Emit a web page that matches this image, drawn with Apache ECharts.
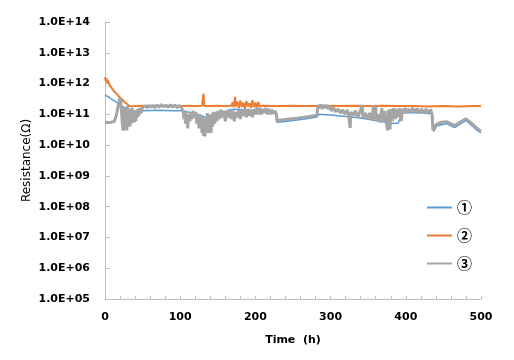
<!DOCTYPE html>
<html>
<head>
<meta charset="utf-8">
<script src="https://cdn.jsdelivr.net/npm/echarts@6/dist/echarts.min.js"></script>
<style>
html,body{margin:0;padding:0;background:#fff;}
#chart{width:514px;height:360px;}
</style>
</head>
<body>
<div id="chart"></div>
<script>
// Series names (legend)
var seriesNames = ['①', '②', '③'];

// Series ① (blue): [time h, resistance Ω]
var series1 = [
  [0,4.3e11],[2,4.0e11],[5,3.6e11],[8,3.2e11],[12,2.8e11],[16,2.4e11],[20,2.0e11],[25,1.7e11],[30,1.45e11],
  [35,1.3e11],[40,1.25e11],[50,1.3e11],[70,1.35e11],[90,1.3e11],[104,1.3e11],[110,1.2e11],[120,1.05e11],
  [128,9.0e10],[135,7.5e10],[140,6.2e10],[145,6.0e10],[150,7.5e10],[155,9.0e10],[160,1.15e11],[165,1.4e11],
  [175,1.45e11],[200,1.3e11],[215,1.2e11],[227,1.1e11],[228.5,5.5e10],[240,5.9e10],[255,6.5e10],[270,7.3e10],
  [282,8.2e10],[284,1.0e11],[300,9.5e10],[320,8.5e10],[340,7.6e10],[360,6.3e10],[375,5.4e10],[385,5.0e10],
  [390,5.2e10],[395,1.1e11],[415,1.15e11],[435,1.05e11],[437,2.8e10],[441,4.2e10],[454,5.0e10],[465,3.7e10],
  [472,4.8e10],[480,6.3e10],[484,5.2e10],[490,3.9e10],[495,3.0e10],[500,2.5e10]
];

// Series ② (orange)
var series2 = [
  [0,1.6e12],[1,1.2e12],[2,1.5e12],[3,1.05e12],[4,1.25e12],[6,8.9e11],[8,8.0e11],[10,6.6e11],[12,5.6e11],
  [14,5.0e11],[17,4.2e11],[20,3.5e11],[23,3.0e11],[26,2.5e11],[29,2.2e11],[32,1.9e11],[35,1.8e11],[40,1.85e11],
  [50,1.9e11],[60,1.85e11],[70,1.9e11],[80,1.85e11],[90,1.9e11],[100,1.85e11],[110,1.9e11],[120,1.85e11],
  [129,1.9e11],[130,1.85e11],[131,4.7e11],[132,1.85e11],[140,1.85e11],[150,1.9e11],[160,1.85e11],[168,1.9e11],
  [170,2.5e11],[171,1.7e11],[173,3.7e11],[174,1.8e11],[176,2.6e11],[178,1.6e11],[180,2.8e11],[182,1.7e11],
  [184,2.4e11],[186,1.5e11],[188,2.7e11],[190,1.8e11],[192,2.3e11],[194,1.6e11],[196,2.9e11],[198,1.7e11],
  [200,2.4e11],[202,1.6e11],[204,2.5e11],[206,1.8e11],[210,1.9e11],[230,1.85e11],[250,1.9e11],[270,1.85e11],
  [290,1.9e11],[310,1.85e11],[330,1.9e11],[350,1.85e11],[370,1.9e11],[390,1.85e11],[410,1.85e11],[430,1.8e11],
  [450,1.85e11],[470,1.8e11],[490,1.85e11],[500,1.85e11]
];

// Series ③ (gray)
var series3 = [
  [0,5.6e10],[2,6.0e10],[4,5.4e10],[6,5.8e10],[8,5.5e10],[10,6.0e10],[12,5.8e10],[13,6.5e10],[15,9.0e10],
  [17,1.6e11],[19,2.8e11],[20,3.6e11],[21,2.5e11],[22,1.2e11],[23,5.0e10],[24,3.0e10],[25,3.5e10],[26,1.6e11],
  [27,4.0e10],[28,1.3e11],[29,3.0e10],[30,1.9e11],[31,5.0e10],[32,1.5e11],[33,4.0e10],[34,1.0e11],[35,5.0e10],
  [36,1.6e11],[37,6.0e10],[38,1.1e11],[39,5.5e10],[40,1.2e11],[41,6.0e10],[42,1.4e11],[43,8.0e10],[44,1.5e11],
  [45,9.0e10],[46,1.6e11],[48,1.1e11],[50,1.7e11],[52,1.5e11],[54,1.9e11],[56,1.6e11],[58,2.0e11],[60,1.7e11],
  [63,1.95e11],[66,1.65e11],[69,2.0e11],[72,1.7e11],[75,2.1e11],[78,1.75e11],[81,2.0e11],[84,1.7e11],[87,2.05e11],
  [90,1.7e11],[93,2.0e11],[96,1.65e11],[99,1.95e11],[102,1.6e11],[104,1.2e11],[105,7.0e10],[106,1.3e11],
  [107,5.0e10],[108,1.1e11],[110,3.5e10],[111,1.0e11],[113,6.0e10],[114,1.2e11],[116,7.0e10],[117,1.3e11],
  [119,8.0e10],[121,1.2e11],[122,5.0e10],[124,9.0e10],[125,3.5e10],[126,1.0e11],[127,4.0e10],[128,7.0e10],
  [129,2.5e10],[130,8.0e10],[131,2.0e10],[132,6.0e10],[133,1.9e10],[134,7.0e10],[135,3.0e10],[136,1.1e11],
  [137,2.5e10],[138,9.0e10],[139,3.5e10],[140,1.0e11],[141,2.5e10],[142,8.0e10],[143,4.0e10],[144,1.2e11],
  [146,5.0e10],[147,1.2e11],[149,6.0e10],[150,1.3e11],[152,7.0e10],[154,1.4e11],[156,8.0e10],[158,1.3e11],
  [160,6.0e10],[162,1.3e11],[164,8.0e10],[166,1.4e11],[168,7.0e10],[170,1.3e11],[172,6.0e10],[174,1.2e11],
  [176,8.0e10],[178,1.4e11],[180,7.0e10],[182,1.3e11],[184,9.0e10],[186,1.4e11],[188,8.0e10],[190,1.5e11],
  [192,9.0e10],[194,1.4e11],[196,8.0e10],[198,1.5e11],[200,1.0e11],[202,1.7e11],[204,1.0e11],[206,1.6e11],
  [208,1.0e11],[210,1.5e11],[212,1.1e11],[214,1.6e11],[216,1.0e11],[218,1.5e11],[220,1.0e11],[222,1.4e11],
  [224,1.05e11],[226,1.3e11],[228,1.0e11],[229,6.3e10],[240,6.8e10],[255,7.5e10],[270,8.4e10],[282,9.3e10],
  [283,2.0e11],[285,1.6e11],[287,2.1e11],[289,1.5e11],[291,2.0e11],[293,1.6e11],[295,2.0e11],[297,1.5e11],
  [299,1.8e11],[301,1.3e11],[304,1.6e11],[307,1.2e11],[310,1.5e11],[313,1.1e11],[316,1.4e11],[319,1.0e11],
  [322,1.4e11],[324,9.0e10],[326,3.6e10],[327,1.2e11],[330,9.0e10],[333,1.3e11],[336,8.0e10],[339,1.2e11],
  [342,2.0e11],[343,8.0e10],[346,1.1e11],[349,7.0e10],[352,1.1e11],[355,6.5e10],[357,1.9e11],[358,7.0e10],
  [360,1.8e11],[361,6.0e10],[363,1.0e11],[366,5.5e10],[368,1.6e11],[370,6.0e10],[372,1.3e11],[374,5.5e10],
  [376,3.0e10],[377,1.4e11],[379,3.2e10],[380,1.5e11],[382,6.0e10],[384,1.6e11],[386,7.0e10],[388,1.5e11],
  [390,8.0e10],[392,1.6e11],[394,6.0e10],[395,1.5e11],[397,1.1e11],[399,1.6e11],[401,1.1e11],[403,1.5e11],
  [406,1.2e11],[409,1.6e11],[412,1.15e11],[415,1.55e11],[418,1.1e11],[421,1.5e11],[424,1.1e11],[427,1.5e11],
  [430,1.05e11],[433,1.45e11],[435,1.0e11],[436,3.1e10],[438,4.0e10],[441,4.8e10],[447,5.5e10],[454,5.8e10],
  [460,5.0e10],[465,4.3e10],[472,5.5e10],[480,7.1e10],[484,6.0e10],[490,4.5e10],[495,3.5e10],[500,2.8e10]
];

// Axis settings
var xMin = 0, xMax = 500, xTickStep = 20, xLabelStep = 100;
var yMin = 1e5, yMax = 1e14;

var colors = ['#5B9BD5', '#ED7D31', '#A5A5A5'];
var widths = [1.5, 2, 3];

var chart = echarts.init(document.getElementById('chart'), null, {renderer: 'canvas'});
var seriesData = [series1, series2, series3];

var option = {
  animation: false,
  backgroundColor: '#ffffff',
  grid: {left: 105, right: 33, top: 22, bottom: 61, containLabel: false},
  legend: {
    orient: 'vertical',
    left: 422,
    top: 194,
    itemWidth: 25,
    itemHeight: 2,
    itemGap: 11,
    itemTextGap: 3,
    icon: 'rect',
    data: seriesNames,
    textStyle: {fontFamily: 'Noto Sans CJK JP', fontWeight: 'bold', fontSize: 15, color: '#000', lineHeight: 17}
  },
  xAxis: {
    type: 'value',
    min: xMin, max: xMax, interval: xTickStep,
    name: 'Time  (h)',
    nameLocation: 'middle',
    nameGap: 36,
    nameTextStyle: {fontFamily: 'DejaVu Sans', fontWeight: 'bold', fontSize: 11, color: '#000'},
    axisLine: {show: true, lineStyle: {color: '#bfbfbf', width: 1}},
    axisTick: {show: true, inside: true, length: 3, lineStyle: {color: '#bfbfbf'}},
    splitLine: {show: false},
    axisLabel: {
      margin: 13,
      fontFamily: 'DejaVu Sans', fontWeight: 'bold', fontSize: 11, color: '#000',
      formatter: function (v) { return (v % xLabelStep === 0) ? String(v) : ''; }
    }
  },
  yAxis: {
    type: 'log',
    logBase: 10,
    min: yMin, max: yMax,
    splitNumber: 9,
    name: 'Resistance(Ω)',
    nameLocation: 'middle',
    nameRotate: 90,
    nameGap: 72,
    nameMoveOverlap: false,
    nameTextStyle: {fontFamily: 'DejaVu Sans', fontSize: 12, color: '#000'},
    axisLine: {show: true, lineStyle: {color: '#bfbfbf', width: 1}},
    axisTick: {show: true, inside: true, length: 5, lineStyle: {color: '#bfbfbf'}},
    splitLine: {show: false},
    axisLabel: {
      margin: 15,
      fontFamily: 'DejaVu Sans', fontWeight: 'bold', fontSize: 11, color: '#000',
      formatter: function (v) {
        var e = Math.round(Math.log10(v));
        return '1.0E+' + (e < 10 ? '0' + e : e);
      }
    }
  },
  series: seriesNames.map(function (n, i) {
    return {
      name: n,
      type: 'line',
      data: seriesData[i],
      showSymbol: false,
      symbol: 'none',
      color: colors[i],
      lineStyle: {color: colors[i], width: widths[i]},
      z: 2 + i
    };
  })
};
chart.setOption(option);
</script>
</body>
</html>
